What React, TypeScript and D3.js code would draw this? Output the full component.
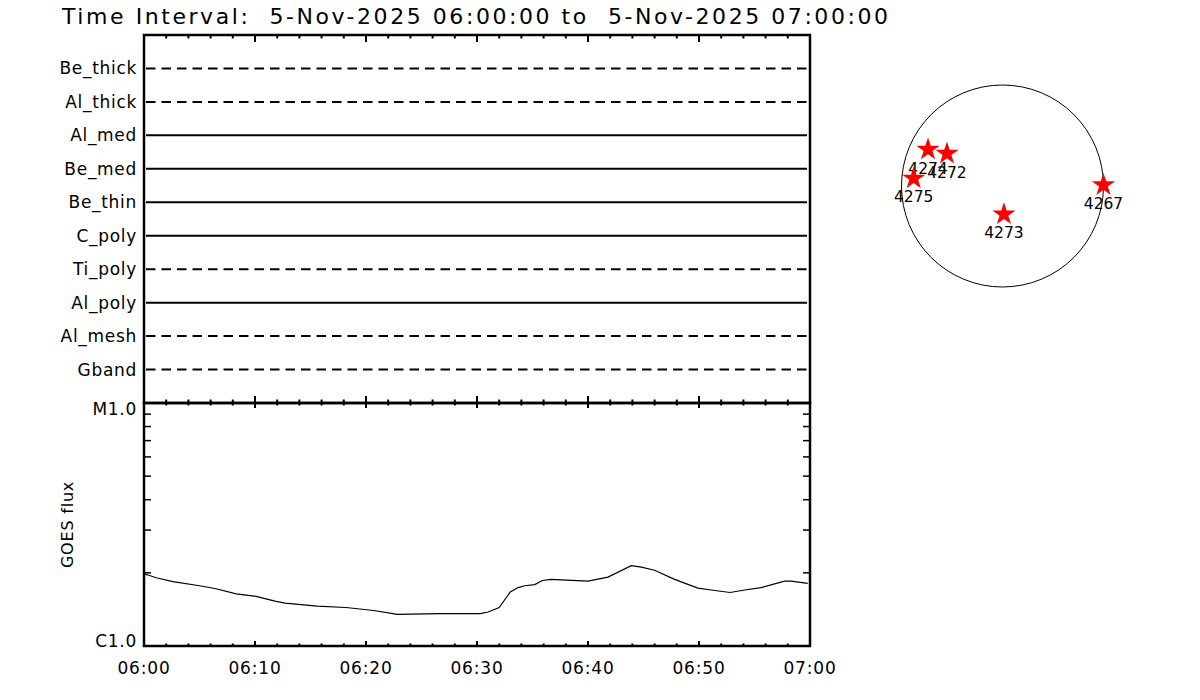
import React from "react";
import * as d3 from "d3";

const titleText = "Time Interval:  5-Nov-2025 06:00:00 to  5-Nov-2025 07:00:00";
const filters = ["Be_thick", "Al_thick", "Al_med", "Be_med", "Be_thin", "C_poly", "Ti_poly", "Al_poly", "Al_mesh", "Gband"];
const dashedFilters = ["Be_thick", "Al_thick", "Ti_poly", "Al_mesh", "Gband"];

// GOES flux: minutes after 06:00, flux in units of 1e-6 W/m^2
const goesMinutes = [0, 0.5, 1.1, 2.6, 5.0, 6.5, 8.3, 10.1, 11.8, 12.7, 15.6, 18.2, 20.7, 22.8, 26.7, 30.3, 31.0, 32.0, 33.0, 33.7, 34.3, 35.2, 35.9, 36.7, 37.6, 40.0, 41.8, 43.9, 44.8, 46.0, 47.8, 49.9, 51.1, 52.8, 54.1, 55.6, 57.7, 58.3, 59.8];
const goesFlux = [1.98, 1.95, 1.91, 1.84, 1.77, 1.72, 1.64, 1.60, 1.53, 1.50, 1.46, 1.44, 1.40, 1.35, 1.36, 1.36, 1.38, 1.44, 1.67, 1.74, 1.77, 1.79, 1.86, 1.88, 1.87, 1.85, 1.92, 2.14, 2.11, 2.05, 1.88, 1.73, 1.70, 1.66, 1.70, 1.74, 1.85, 1.85, 1.81];

const fluxTickValues = [1e-6, 1e-5];
const fluxTickLabels = ["C1.0", "M1.0"];

// Active regions, heliocentric arcsec (x west, y north)
const regionNames = ["4274", "4272", "4275", "4273", "4267"];
const regionX = [-719, -536, -857, 14, 975];
const regionY = [352, 313, 73, -273, 9];
const solarRadius = 975;

const t0 = new Date(2025, 10, 5, 6, 0, 0);
const t1 = new Date(2025, 10, 5, 7, 0, 0);

export default function App() {
  const left = 144, right = 810;
  const upTop = 35, upBottom = 403, lowTop = 403, lowBottom = 646;

  const x = d3.scaleTime().domain([t0, t1]).range([left, right]);
  const yFilt = d3.scalePoint<string>().domain(filters).range([upTop, upBottom]).padding(1);
  const yFlux = d3.scaleLog().domain([1e-6, 1e-5]).range([lowBottom, lowTop]);

  const majorTicks = x.ticks(d3.timeMinute.every(10)!);
  const minorTicks = x.ticks(d3.timeMinute.every(2)!).filter((t) => t.getMinutes() % 10 !== 0);
  const fmt = d3.timeFormat("%H:%M");

  const goesData = goesMinutes.map((m, i) => ({ t: new Date(t0.getTime() + m * 60000), f: goesFlux[i] * 1e-6 }));
  const line = d3.line<{ t: Date; f: number }>().x((d) => x(d.t)).y((d) => yFlux(d.f));

  const fluxMinor = d3.range(2, 10).map((k) => k * 1e-6);

  const sx = d3.scaleLinear().domain([-solarRadius, solarRadius]).range([901.5, 1103.5]);
  const sy = d3.scaleLinear().domain([-solarRadius, solarRadius]).range([287, 85]);
  const star = d3.symbol().type(d3.symbolStar).size(165)()!;

  const font = "DejaVu Sans, Liberation Sans, sans-serif";

  const xTicks = (yAxis: number, dir: number, major: number, minor: number, key: string) => (
    <g key={key} stroke="#000" strokeWidth={2}>
      {majorTicks.map((t, i) => (
        <line key={"M" + i} x1={x(t)} x2={x(t)} y1={yAxis} y2={yAxis + dir * major} />
      ))}
      {minorTicks.map((t, i) => (
        <line key={"m" + i} x1={x(t)} x2={x(t)} y1={yAxis} y2={yAxis + dir * minor} />
      ))}
    </g>
  );

  return (
    <svg width={1200} height={700} style={{ position: "absolute", left: 0, top: 0, background: "#fff" }} fontFamily={font}>
      <rect x={0} y={0} width={1200} height={700} fill="#fff" />
      <text x={62} y={23.5} fontSize={22} textLength={826} lengthAdjust="spacing" style={{ whiteSpace: "pre" }} fill="#000">
        {titleText}
      </text>

      {/* Upper panel: filter lines */}
      {filters.map((f) => {
        const yy = yFilt(f)!;
        const dashed = dashedFilters.includes(f);
        return (
          <g key={f}>
            <line x1={left + 2} x2={right - 3} y1={yy} y2={yy} stroke="#000" strokeWidth={2} strokeDasharray={dashed ? "9.5 6" : undefined} />
            <text x={137} y={yy + 6} fontSize={17} textAnchor="end" letterSpacing={0.7} fill="#000">
              {f}
            </text>
          </g>
        );
      })}
      {xTicks(upTop, 1, 7, 3.5, "ut")}
      {xTicks(upBottom, -1, 7, 3.5, "ub")}
      <rect x={left} y={upTop} width={right - left} height={upBottom - upTop} fill="none" stroke="#000" strokeWidth={2.5} />

      {/* Lower panel: GOES flux */}
      <path d={line(goesData)!} fill="none" stroke="#000" strokeWidth={1.2} />
      {xTicks(lowTop, 1, 5, 2.5, "lt")}
      {xTicks(lowBottom, -1, 5, 2.5, "lb")}
      <g stroke="#000" strokeWidth={1.5}>
        {fluxMinor.map((v, i) => (
          <g key={i}>
            <line x1={left} x2={left + 7} y1={yFlux(v)} y2={yFlux(v)} />
            <line x1={right} x2={right - 7} y1={yFlux(v)} y2={yFlux(v)} />
          </g>
        ))}
      </g>
      <rect x={left} y={lowTop} width={right - left} height={lowBottom - lowTop} fill="none" stroke="#000" strokeWidth={2.5} />
      {fluxTickValues.map((v, i) => (
        <text key={i} x={137} y={yFlux(v) + (i === 0 ? 1 : 12)} fontSize={17} textAnchor="end" letterSpacing={0.7} fill="#000">
          {fluxTickLabels[i]}
        </text>
      ))}
      <text transform={`translate(73,${(lowTop + lowBottom) / 2}) rotate(-90)`} fontSize={16} textAnchor="middle" letterSpacing={0.8} fill="#000">
        GOES flux
      </text>
      {majorTicks.map((t, i) => (
        <text key={i} x={x(t)} y={673.5} fontSize={17} textAnchor="middle" letterSpacing={0.8} fill="#000">
          {fmt(t)}
        </text>
      ))}

      {/* Solar disk with active regions */}
      <circle cx={sx(0)} cy={sy(0)} r={sx(solarRadius) - sx(0)} fill="none" stroke="#000" strokeWidth={1} />
      {regionNames.map((n, i) => (
        <g key={n}>
          <path d={star} transform={`translate(${sx(regionX[i])},${sy(regionY[i])})`} fill="#ff0000" />
          <text x={sx(regionX[i])} y={sy(regionY[i]) + 24} fontSize={15.5} textAnchor="middle" fill="#000">
            {n}
          </text>
        </g>
      ))}
    </svg>
  );
}
